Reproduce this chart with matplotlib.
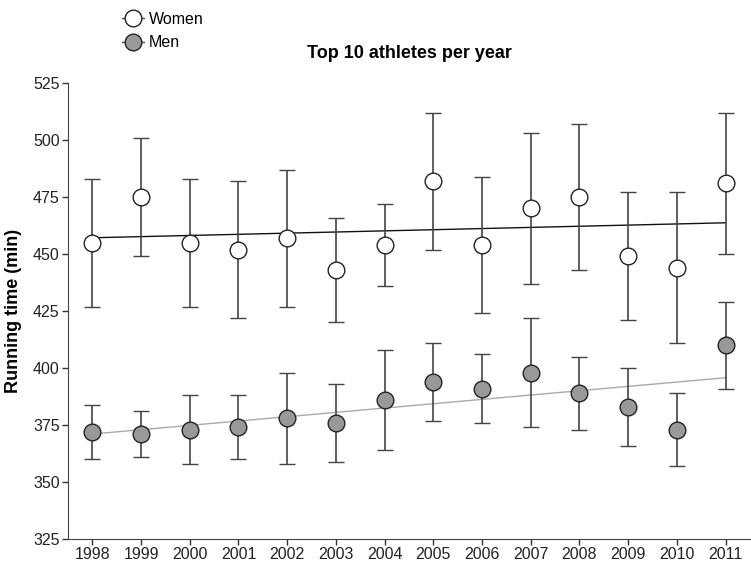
import numpy as np
import matplotlib.pyplot as plt
from matplotlib.lines import Line2D

plt.rcParams['font.family'] = ['Liberation Sans', 'DejaVu Sans']

years = np.arange(1998, 2012)

# Women: mean and error bar ends
women = np.array([455, 475, 455, 452, 457, 443, 454, 482, 454, 470, 475, 449, 444, 481])
women_lo = np.array([427, 449, 427, 422, 427, 420, 436, 452, 424, 437, 443, 421, 411, 450])
women_hi = np.array([483, 501, 483, 482, 487, 466, 472, 512, 484, 503, 507, 477, 477, 512])

# Men
men = np.array([372, 371, 373, 374, 378, 376, 386, 394, 391, 398, 389, 383, 373, 410])
men_lo = np.array([360, 361, 358, 360, 358, 359, 364, 377, 376, 374, 373, 366, 357, 391])
men_hi = np.array([384, 381, 388, 388, 398, 393, 408, 411, 406, 422, 405, 400, 389, 429])

fig = plt.figure(figsize=(7.51, 5.61), dpi=100)
ax = fig.add_axes([0.0905, 0.039, 0.908, 0.813])

# trend lines (linear fit)
pw = np.polyfit(years, women, 1)
pm = np.polyfit(years, men, 1)
ax.plot(years, np.polyval(pw, years), color='#111111', lw=1.0, zorder=1)
ax.plot(years, np.polyval(pm, years), color='#aaaaaa', lw=1.0, zorder=1)

ax.errorbar(years, women, yerr=[women - women_lo, women_hi - women],
            fmt='o', ms=12, mfc='white', mec='#222222', mew=1.0,
            ecolor='#444444', elinewidth=1.2, capsize=6, capthick=1.2, zorder=3)
ax.errorbar(years, men, yerr=[men - men_lo, men_hi - men],
            fmt='o', ms=12, mfc='#999999', mec='#222222', mew=1.0,
            ecolor='#444444', elinewidth=1.2, capsize=6, capthick=1.2, zorder=3)

ax.set_xlim(1997.5, 2011.5)
ax.set_ylim(325, 525)
ax.set_xticks(years)
ax.set_yticks(np.arange(325, 526, 25))
ax.tick_params(direction='out', length=4, width=1, pad=2, colors='#333333',
               labelcolor='#222222', labelsize=11.5)
for s in ['top', 'right']:
    ax.spines[s].set_visible(False)
for s in ['left', 'bottom']:
    ax.spines[s].set_color('#444444')

ax.set_ylabel('Running time (min)', fontsize=13, fontweight='bold', labelpad=8)
fig.text(0.545, 0.905, 'Top 10 athletes per year', ha='center', va='center',
         fontsize=13, fontweight='bold')

handles = [
    Line2D([], [], color='#555555', lw=1.0, marker='o', ms=12,
           mfc='white', mec='#222222'),
    Line2D([], [], color='#555555', lw=1.0, marker='o', ms=12,
           mfc='#999999', mec='#222222'),
]
fig.legend(handles=handles, labels=['Women', 'Men'], loc='upper left',
           bbox_to_anchor=(0.143, 1.005), frameon=False, fontsize=11.5,
           handlelength=1.4, handletextpad=0.3, labelspacing=0.55)

fig.savefig('out.png', dpi=100)
